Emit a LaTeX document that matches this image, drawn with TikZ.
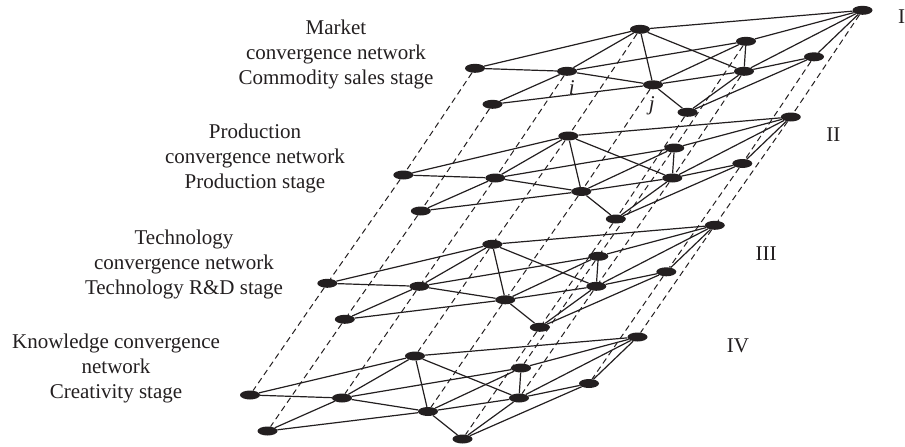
\documentclass[tikz,border=0pt]{standalone}
\usepackage{fontspec}
\setmainfont{Liberation Serif}
\usetikzlibrary{shapes.geometric}
\definecolor{ink}{HTML}{231F20}
\pgfdeclarelayer{background}
\pgfsetlayers{background,main}
\begin{document}
\begin{tikzpicture}[x=1pt,y=-1pt,
  dot/.style={ellipse,fill=ink,draw=none,minimum width=20pt,minimum height=9pt,inner sep=0pt},
  edge/.style={draw=ink,line width=1.2pt},
  link/.style={draw=ink,line width=1pt,dash pattern=on 6pt off 4pt},
  stage/.style={font=\fontsize{21}{25}\selectfont,text=ink,align=center,inner sep=0pt},
  tag/.style={font=\fontsize{21}{25}\selectfont,text=ink,inner sep=0pt}]
\useasboundingbox (0,0) rectangle (905,447);

% four copies of the same network, each shifted down and to the left
\foreach \l/\ox/\oy in {1/475/68.3, 2/403.3/175, 3/327.3/283.3, 4/250/395}{
  \foreach \n/\dx/\dy in {A/387.5/-58, B/165/-39, C/271/-27, D/339/-11.5,
                          E/0/0, F/92/3, G/269/3, H/178/16.5, K/17.5/36, L/212.5/44}{
    \node[dot] (n\l\n) at (\ox+\dx,\oy+\dy) {};
  }
}

\begin{pgfonlayer}{background}
  % vertical correspondence between the layers
  \foreach \n in {A,B,C,D,E,F,G,H,K,L}{
    \foreach \a/\b in {1/2,2/3,3/4}{
      \draw[link] (n\a\n) -- (n\b\n);
    }
  }
  % links inside each layer
  \foreach \l in {1,2,3,4}{
    \foreach \a/\b in {E/B, E/F, B/A, B/F, B/H, B/G, F/C, F/H, K/F, K/H,
                       H/C, H/G, H/L, C/A, C/G, G/A, G/D, D/A, L/G, L/D}{
      \draw[edge] (n\l\a) -- (n\l\b);
    }
  }
\end{pgfonlayer}

% node labels
\node[tag,font=\fontsize{21}{25}\selectfont\itshape] (li) at (571.7,88) {i};
\node[tag,font=\fontsize{21}{25}\selectfont\itshape] (lj) at (651.7,106) {j};

% layer numbers
\node[tag] (r1) at (901.5,17) {I};
\node[tag] (r2) at (833.3,135) {II};
\node[tag] (r3) at (766,253.3) {III};
\node[tag] (r4) at (738,346) {IV};

% stage descriptions
\node[stage] (s1) at (336,54) {Market\\convergence network\\Commodity sales stage};
\node[stage] (s2) at (255,158) {Production\\convergence network\\Production stage};
\node[stage] (s3) at (184,264) {Technology\\convergence network\\Technology R\&D stage};
\node[stage] (s4) at (116,368) {Knowledge convergence\\network\\Creativity stage};
\end{tikzpicture}
\end{document}
